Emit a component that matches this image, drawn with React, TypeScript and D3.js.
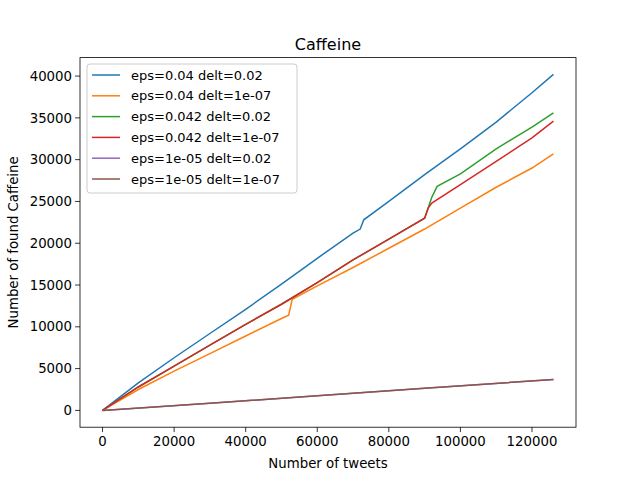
import React from 'react';
import * as d3 from 'd3';

type P = [number, number];

const blue: P[] = [[0,0],[10000,3300],[20000,6300],[30000,9200],[40000,12100],[50000,15100],[60000,18200],[70000,21200],[72000,21700],[73000,22800],[80000,25000],[90000,28200],[100000,31300],[110000,34500],[120000,38000],[126000,40200]];
const orange: P[] = [[0,0],[10000,2500],[20000,4700],[30000,6800],[40000,8900],[50000,11000],[52000,11400],[53000,13300],[60000,14900],[70000,17100],[80000,19400],[90000,21700],[100000,24200],[110000,26700],[120000,29000],[126000,30700]];
const red: P[] = [[0,0],[10000,2800],[20000,5300],[30000,7800],[40000,10300],[50000,12700],[60000,15300],[70000,18000],[80000,20500],[90000,23000],[91000,24200],[92000,24800],[100000,27000],[110000,29800],[120000,32600],[126000,34600]];
const green: P[] = [...red.slice(0, 10), [92000,25500],[93500,26800],[100000,28300],[110000,31300],[120000,33900],[126000,35600]];
const low: P[] = [[0,0],[30000,850],[60000,1750],[90000,2650],[126000,3700]];

const series = [
  { label: 'eps=0.04 delt=0.02', color: '#1f77b4', data: blue },
  { label: 'eps=0.04 delt=1e-07', color: '#ff7f0e', data: orange },
  { label: 'eps=0.042 delt=0.02', color: '#2ca02c', data: green },
  { label: 'eps=0.042 delt=1e-07', color: '#d62728', data: red },
  { label: 'eps=1e-05 delt=0.02', color: '#9467bd', data: low },
  { label: 'eps=1e-05 delt=1e-07', color: '#8c564b', data: low },
];

const xTicks = [0, 20000, 40000, 60000, 80000, 100000, 120000];
const yTicks = [0, 5000, 10000, 15000, 20000, 25000, 30000, 35000, 40000];

export default function App() {
  const W = 640, H = 480;
  const L = 80, R = 576, T = 57.6, B = 427.2;
  const x = d3.scaleLinear().domain([-6300, 132300]).range([L, R]);
  const y = d3.scaleLinear().domain([-2010, 42210]).range([B, T]);
  const line = d3.line<P>().x(d => x(d[0])).y(d => y(d[1]));
  const font = 'DejaVu Sans, sans-serif';
  return (
    <svg width={W} height={H} style={{ position: 'absolute', left: 0, top: 0, fontFamily: font }}>
      <rect width={W} height={H} fill="#fff" />
      {series.map(s => (
        <path key={s.label} d={line(s.data) || ''} fill="none" stroke={s.color} strokeWidth={1.5} />
      ))}
      <rect x={L} y={T} width={R - L} height={B - T} fill="none" stroke="#000" strokeWidth={0.8} />
      {xTicks.map(t => (
        <g key={t} transform={`translate(${x(t)},${B})`}>
          <line y2={4.9} stroke="#000" strokeWidth={0.8} />
          <text y={19} textAnchor="middle" fontSize={13.3}>{t}</text>
        </g>
      ))}
      {yTicks.map(t => (
        <g key={t} transform={`translate(${L},${y(t)})`}>
          <line x2={-4.9} stroke="#000" strokeWidth={0.8} />
          <text x={-8} dy="0.35em" textAnchor="end" fontSize={13.3}>{t}</text>
        </g>
      ))}
      <text x={(L + R) / 2} y={468} textAnchor="middle" fontSize={13.3}>Number of tweets</text>
      <text transform={`translate(18,${(T + B) / 2}) rotate(-90)`} textAnchor="middle" fontSize={13.3}>Number of found Caffeine</text>
      <text x={(L + R) / 2} y={50} textAnchor="middle" fontSize={16}>Caffeine</text>
      <rect x={87} y={64} width={210} height={129} fill="#fff" fillOpacity={0.8} stroke="#ccc" rx={3} />
      {series.map((s, i) => (
        <g key={s.label} transform={`translate(0,${75 + i * 20.8})`}>
          <line x1={92} x2={120} stroke={s.color} strokeWidth={1.5} />
          <text x={131} dy="0.35em" fontSize={13}>{s.label}</text>
        </g>
      ))}
    </svg>
  );
}
